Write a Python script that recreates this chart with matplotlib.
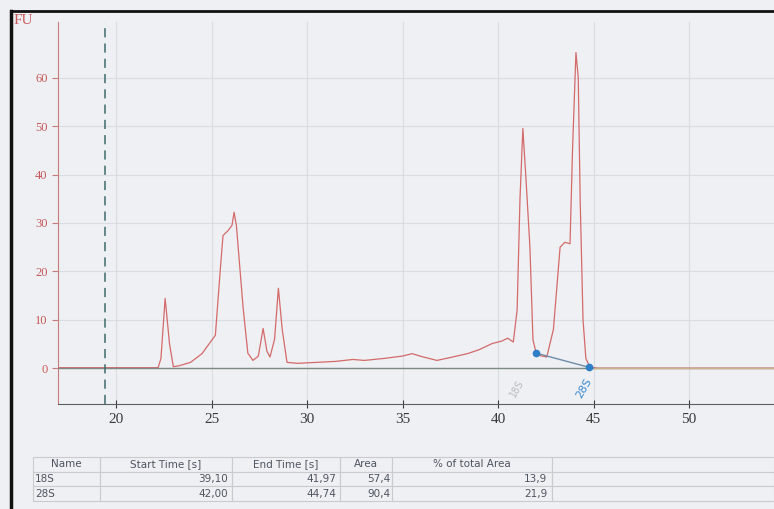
import matplotlib.pyplot as plt
from matplotlib.lines import Line2D

# Electropherogram trace (time [s], fluorescence [FU])
times = [17.0, 22.2, 22.35, 22.57, 22.8, 23.0, 23.3, 23.9, 24.5, 25.2, 25.45, 25.6,
         25.86, 26.07, 26.18, 26.3, 26.65, 26.9, 27.17, 27.45, 27.7, 27.9, 28.06,
         28.3, 28.5, 28.7, 28.95, 29.5, 30.5, 31.5, 32.4, 33.0, 34.0, 35.0, 35.5,
         36.0, 36.8, 37.5, 38.4, 39.0, 39.7, 40.2, 40.5, 40.8, 41.0, 41.15, 41.3,
         41.45, 41.67, 41.83, 42.0, 42.2, 42.55, 42.9, 43.25, 43.5, 43.77, 43.9,
         44.08, 44.2, 44.3, 44.45, 44.6, 44.8, 45.2, 54.5]
fu = [0.1, 0.1, 2.0, 14.4, 5.0, 0.3, 0.5, 1.2, 3.0, 6.8, 20.0, 27.4,
      28.4, 29.5, 32.2, 29.5, 12.6, 3.1, 1.6, 2.5, 8.2, 3.5, 2.3,
      6.0, 16.5, 8.0, 1.2, 1.0, 1.2, 1.4, 1.8, 1.6, 2.0, 2.5, 3.0,
      2.4, 1.6, 2.2, 3.0, 3.8, 5.1, 5.6, 6.2, 5.4, 12.0, 35.0, 49.5,
      40.0, 25.0, 5.8, 3.1, 2.6, 2.3, 8.0, 25.0, 26.0, 25.7, 45.0,
      65.2, 60.0, 35.0, 10.0, 2.0, 0.3, 0.0, 0.0]

# 28S baseline markers
marker_t = [42.00, 44.74]
marker_fu = [3.1, 0.2]

# peak table
columns = ['Name', 'Start Time [s]', 'End Time [s]', 'Area', '% of total Area', '']
rows = [['18S', '39,10', '41,97', '57,4', '13,9', ''],
        ['28S', '42,00', '44,74', '90,4', '21,9', '']]

bg = '#eef0f3'
fig = plt.figure(figsize=(7.74, 5.09), dpi=100, facecolor=bg)
ax = fig.add_axes([58 / 774, 1 - 404 / 509, 1 - 58 / 774, (404 - 22) / 509])
ax.set_facecolor(bg)

ax.set_xlim(16.96, 54.45)
ax.set_ylim(-7.4, 71.5)
ax.set_xticks([20, 25, 30, 35, 40, 45, 50])
ax.set_yticks([0, 10, 20, 30, 40, 50, 60])
ax.grid(True, color='#d9dce1', linewidth=0.8)
ax.set_axisbelow(True)

ax.plot(times, fu, color='#d46a6a', linewidth=0.9, zorder=2)

ax.axhline(0, color='#7e8a84', linewidth=1.0, zorder=3)
ax.axhline(0, xmin=(45.0 - 16.96) / (54.45 - 16.96), color='#cfae8a', linewidth=1.0, zorder=3)
ax.axvline(19.4, color='#3d6b6b', linewidth=1.1, linestyle=(0, (6, 4)), zorder=3)

ax.plot(marker_t, marker_fu, color='#6e8ca8', linewidth=1.0, zorder=5)
ax.plot(marker_t, marker_fu, 'o', color='#2f7fc8', markersize=4.5, zorder=6)

ax.text(41.0, -4.2, '18S', rotation=60, color='#b9bcc2', fontsize=7,
        ha='center', va='center')
ax.text(44.5, -4.2, '28S', rotation=60, color='#3a8ad0', fontsize=8,
        ha='center', va='center')

for side in ['top', 'right']:
    ax.spines[side].set_visible(False)
ax.spines['left'].set_color('#c77b7b')
ax.spines['bottom'].set_color('#5c5f63')
ax.tick_params(axis='y', colors='#c77b7b', labelcolor='#c75a5a', labelsize=9, length=4)
ax.tick_params(axis='x', colors='#3a3a3a', labelsize=11, length=6, direction='inout')
for lab in ax.get_xticklabels() + ax.get_yticklabels():
    lab.set_fontfamily('Liberation Serif')

fig.text(14 / 774, 1 - 20 / 509, 'FU', color='#c75a5a', fontsize=11,
         family='Liberation Serif', va='center')

# scan border
fig.add_artist(Line2D([11 / 774, 11 / 774], [0, 1 - 11 / 509], color='#111111', linewidth=2.5))
fig.add_artist(Line2D([11 / 774, 1], [1 - 11 / 509, 1 - 11 / 509], color='#111111', linewidth=2.0))

# peak table
tab_ax = fig.add_axes([33 / 774, 1 - 501 / 509, 1 - 33 / 774, 44 / 509])
tab_ax.axis('off')
widths = [67, 132, 108, 52, 160, 222]
total = sum(widths)
tbl = tab_ax.table(cellText=rows, colLabels=columns, bbox=[0, 0, 1, 1],
                   colWidths=[w / total for w in widths])
tbl.auto_set_font_size(False)
for (r, c), cell in tbl.get_celld().items():
    cell.set_edgecolor('#c9cbcf')
    cell.set_linewidth(0.8)
    cell.set_facecolor(bg)
    cell.get_text().set_fontsize(7.5)
    cell.get_text().set_color('#4f5560')
    if r == 0:
        cell.set_text_props(ha='center')
    elif c == 0:
        cell.set_text_props(ha='left')
        cell.PAD = 0.03
    else:
        cell.set_text_props(ha='right')
        cell.PAD = 0.03

fig.savefig('out.png', dpi=100, facecolor=bg)
